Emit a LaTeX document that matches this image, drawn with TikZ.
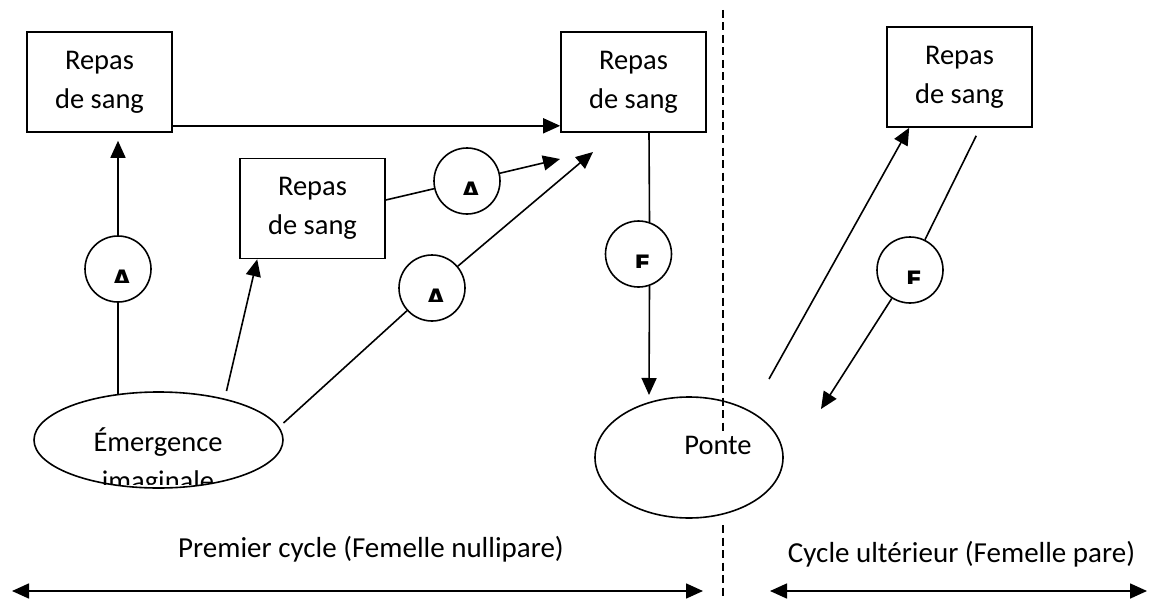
\documentclass[tikz,border=0pt]{standalone}
\usepackage{fontspec}
\setmainfont{Carlito}
\newfontfamily\letterfont{DejaVu Sans}
\usetikzlibrary{shapes.geometric,arrows.meta,calc}
\begin{document}
\begin{tikzpicture}[x=1pt,y=-1pt,
  line width=1.6pt,
  box/.style={draw, rectangle, minimum width=145pt, minimum height=100pt, inner sep=0pt, align=center, font=\fontsize{28.5}{39}\selectfont},
  ring/.style={draw, circle, minimum size=66pt, inner sep=0pt},
  oval/.style={draw, ellipse, inner sep=0pt},
  lbl/.style={font=\fontsize{28.5}{39}\selectfont, inner sep=0pt, anchor=base},
  cyc/.style={font=\fontsize{29}{34}\selectfont, inner sep=0pt, anchor=base},
  letter/.style={font=\letterfont\bfseries\fontsize{24}{24}\selectfont, inner sep=0pt, anchor=north},
  arr/.style={-{Triangle[length=17pt,width=15pt]}},
  darr/.style={{Triangle[length=17pt,width=15pt]}-{Triangle[length=17pt,width=15pt]}},
  sep/.style={dash pattern=on 8pt off 4.5pt},
]
\useasboundingbox (0,0) rectangle (1153,599);

% boxes
\node[box] (box1) at (99.5,82) {Repas\\de sang};
\node[box] (box2) at (312.5,208.5) {Repas\\de sang};
\node[box] (box3) at (633.5,82) {Repas\\de sang};
\node[box] (box4) at (959.5,77) {Repas\\de sang};

% circles
\node[ring] (a1) at (118,269) {};
\node[ring] (a2) at (467,181) {};
\node[ring] (a3) at (432,288) {};
\node[ring] (f1) at (638.5,254) {};
\node[ring] (f2) at (910,270) {};

% ellipses
\node[oval, minimum width=249pt, minimum height=96pt] (e1) at (158.5,440) {};
\node[oval, minimum width=188pt, minimum height=121pt] (e2) at (689,457.5) {};

% texts in ellipses
\node[lbl] (tem) at (158,451) {Émergence};
\begin{scope}
  \clip (30,455) rectangle (290,484);
  \node[lbl] (tim) at (158,490) {imaginale};
\end{scope}
\node[lbl] (tpo) at (718,454) {Ponte};

% circle letters (cut off at their lower part)
\foreach \c/\l in {a1/A,a2/A,a3/A,f1/F,f2/F}{
  \begin{scope}
    \clip ($(\c.center)+(-25,-5)$) rectangle ($(\c.center)+(25,13.5)$);
    \node[letter] (\c-txt) at ($(\c.center)+(4,0)$) {\l};
  \end{scope}
}

% free ends
\coordinate (t2) at (560,159);
\coordinate (t3) at (593,152);
\coordinate (fx) at (649,0);
\coordinate (t4) at (649,395);
\coordinate (s5) at (769,379);
\coordinate (t6) at (821,409);

% connectors, first cycle
\draw ($(e1.center)+(-40.5,-45.5)$) -- (a1);
\draw[arr, shorten >=8pt] (a1) -- (box1.south -| a1);
\draw[arr] ($(box1.south east)+(0,-7)$) -- ($(box3.south west)+(0,-7)$);
\draw[arr] ($(e1.center)+(68,-49)$) -- ($(box2.south west)+(18,0)$);
\draw ($(box2.east)+(0,-8.5)$) -- (a2);
\draw[arr] (a2) -- (t2);
\draw ($(e1.center)+(125,-17)$) -- (a3);
\draw[arr] (a3) -- (t3);
\draw (box3.south -| fx) -- (f1.71.4);
\draw[arr] (f1.-71.4) -- (t4);

% connectors, later cycle
\draw[arr] (s5) -- ($(box4.south west)+(23,0)$);
\draw ($(box4.south west)+(90,8)$) -- (f2);
\draw[arr] (f2) -- (t6);

% separator
\coordinate (d1) at (723,10);
\coordinate (d2) at (723,432);
\coordinate (d3) at (723,525);
\coordinate (d4) at (723,599);
\draw[sep] (d1) -- (d2);
\draw[sep] (d3) -- (d4);

% cycle labels
\node[cyc] (c1) at (371,557) {Premier cycle (Femelle nullipare)};
\node[cyc] (c2) at (961.5,562) {Cycle ultérieur (Femelle pare)};
\coordinate (l1) at (12,591);
\coordinate (l2) at (703,591);
\coordinate (r1) at (770,591);
\coordinate (r2) at (1147,591);
\draw[darr] (l1) -- (l2);
\draw[darr] (r1) -- (r2);
\end{tikzpicture}
\end{document}
